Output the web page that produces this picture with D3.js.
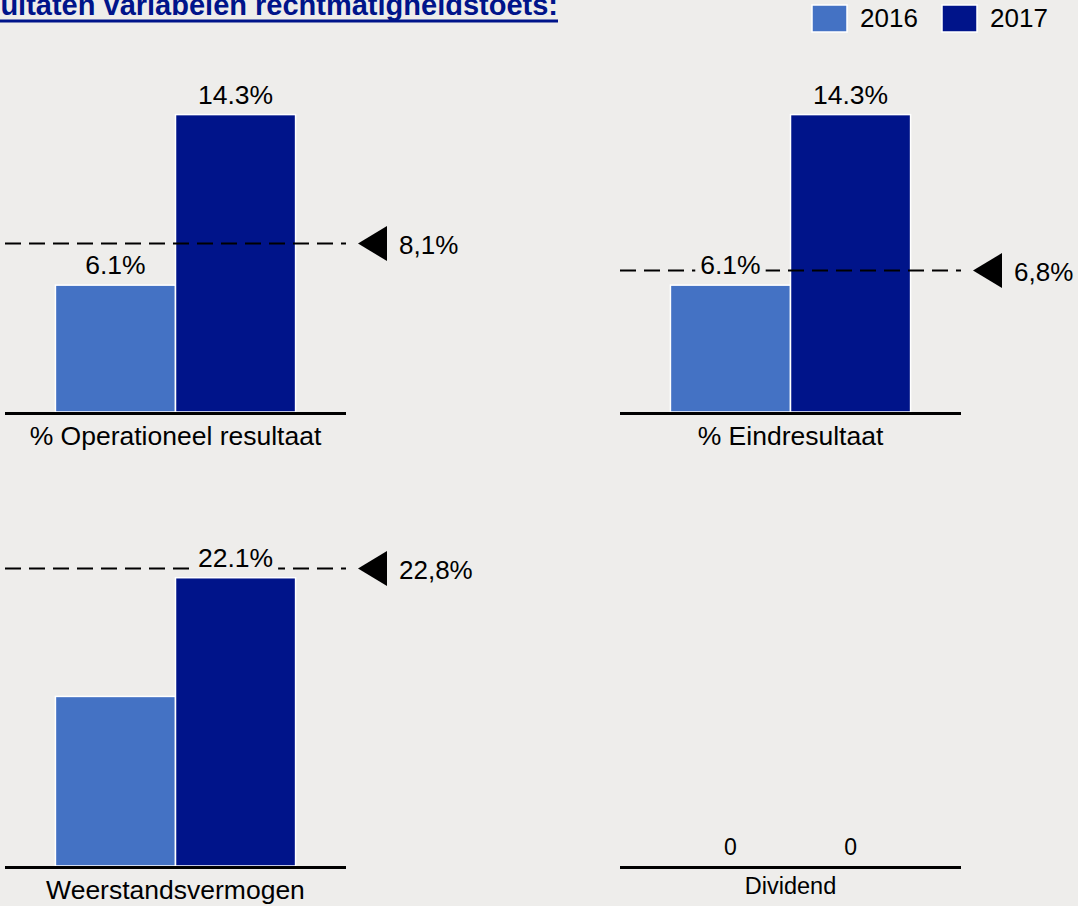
<!DOCTYPE html>
<html>
<head>
<meta charset="utf-8">
<script src="https://cdnjs.cloudflare.com/ajax/libs/d3/7.8.5/d3.min.js"></script>
<style>
  html, body { margin: 0; padding: 0; background: #eeedeb; overflow: hidden; }
  svg { display: block; }
  text { font-family: "Liberation Sans", Arial, sans-serif; }
</style>
</head>
<body>
<svg id="chart"></svg>
<script>
var title = "Resultaten variabelen rechtmatigheidstoets:"
var categories = ["% Operationeel resultaat", "% Eindresultaat", "Weerstandsvermogen", "Dividend"]
var series = ["2016", "2017"]
var values2016 = [6.1, 6.1, 13.0, 0]
var values2017 = [14.3, 14.3, 22.1, 0]
var labels2016 = ["6.1%", "6.1%", "", "0"]
var labels2017 = ["14.3%", "14.3%", "22.1%", "0"]
var normValues = [8.1, 6.8, 22.8, null]
var normLabels = ["8,1%", "6,8%", "22,8%", ""]

var width = 1078, height = 906
var bg = "#eeedeb"
var colors = {"2016": "#4472c4", "2017": "#00148a"}

var svg = d3.select("#chart").attr("width", width).attr("height", height)

// title, cut off on the left like the source
var t = svg.append("text")
    .attr("x", 558).attr("y", 15)
    .attr("text-anchor", "end")
    .style("font-size", "29px")
    .style("font-weight", "bold")
    .style("fill", colors["2017"])
    .text(title)
var tl = t.node().getComputedTextLength()
svg.append("line")
    .attr("x1", 558 - tl).attr("x2", 558)
    .attr("y1", 21).attr("y2", 21)
    .style("stroke", colors["2017"]).style("stroke-width", 3)

// legend
var legend = svg.append("g").selectAll("g")
    .data(series)
  .enter().append("g")
    .attr("transform", function(d, i) { return "translate(" + (812 + i * 130) + ",5)" })
legend.append("rect")
    .attr("width", 35).attr("height", 27)
    .style("fill", function(d) { return colors[d] })
    .style("stroke", "#fff").style("stroke-width", 1.5)
legend.append("text")
    .attr("x", 48).attr("y", 22)
    .style("font-size", "26px")
    .text(function(d) { return d })

// panels: 2 x 2
var panelW = 341, plotH = 345
var colX = [5, 620], rowBase = [412, 866]

categories.forEach(function(cat, i) {
  var x0 = colX[i % 2], base = rowBase[Math.floor(i / 2)]
  var vals = [values2016[i], values2017[i]]
  var labs = [labels2016[i], labels2017[i]]
  var norm = normValues[i]
  var small = (i == 3)

  var top = d3.max(vals.concat(norm == null ? [] : [norm]))
  var x = d3.scaleBand().domain(series).range([0, panelW]).paddingInner(0).paddingOuter(0.42)
  var y = d3.scaleLinear().domain([0, top > 0 ? top * 1.16 : 1]).range([plotH, 0])

  var g = svg.append("g").attr("transform", "translate(" + x0 + "," + (base - plotH) + ")")

  g.selectAll(".bar")
      .data(series)
    .enter().append("rect")
      .attr("class", "bar")
      .attr("x", function(d) { return x(d) })
      .attr("width", x.bandwidth())
      .attr("y", function(d, j) { return y(vals[j]) })
      .attr("height", function(d, j) { return plotH - y(vals[j]) })
      .style("fill", function(d) { return colors[d] })
      .style("stroke", "#fff").style("stroke-width", 1.5)

  if (norm != null) {
    var ny = y(norm)
    g.append("line")
      .attr("x1", 0).attr("x2", panelW)
      .attr("y1", ny).attr("y2", ny)
      .style("stroke", "#000").style("stroke-width", 2)
      .style("stroke-dasharray", "16,8")
    g.append("path")
      .attr("d", "M" + (panelW + 12) + "," + ny + "L" + (panelW + 41) + "," + (ny - 17.5) + "L" + (panelW + 41) + "," + (ny + 17.5) + "Z")
      .style("fill", "#000")
    g.append("text")
      .attr("x", panelW + 53).attr("y", ny + 10)
      .style("font-size", "26px")
      .text(normLabels[i])
  }

  // value labels, with a patch of background behind them
  series.forEach(function(s, j) {
    if (!labs[j]) return
    var cx = x(s) + x.bandwidth() / 2, by = y(vals[j]) - 11
    var lab = g.append("text")
      .attr("x", cx).attr("y", by)
      .attr("text-anchor", "middle")
      .style("font-size", small ? "23px" : "26.5px")
      .text(labs[j])
    var w = lab.node().getComputedTextLength()
    g.insert("rect", function() { return lab.node() })
      .attr("x", cx - w / 2 - 5).attr("width", w + 10)
      .attr("y", by - 22).attr("height", 26)
      .style("fill", bg)
  })

  g.append("line")
      .attr("x1", 0).attr("x2", panelW)
      .attr("y1", plotH + 1.5).attr("y2", plotH + 1.5)
      .style("stroke", "#000").style("stroke-width", 3)

  g.append("text")
      .attr("x", panelW / 2)
      .attr("y", plotH + (small ? 28 : 33))
      .attr("text-anchor", "middle")
      .style("font-size", small ? "23.5px" : "26.5px")
      .text(cat)
})
</script>
</body>
</html>
